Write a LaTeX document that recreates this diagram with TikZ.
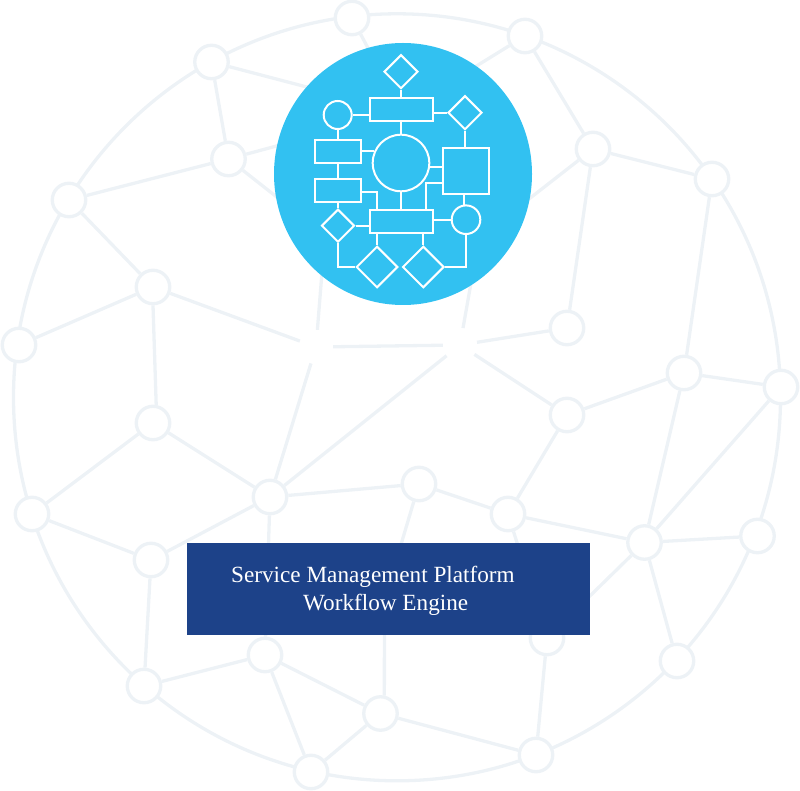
\documentclass[tikz,border=0pt]{standalone}
\usepackage{fontspec}
\setmainfont{Liberation Serif}
\usetikzlibrary{shapes.geometric}
\definecolor{netline}{HTML}{EDF2F6}
\definecolor{discblue}{HTML}{32C1F1}
\definecolor{boxblue}{HTML}{1D4289}
\tikzset{
  net/.style={circle,draw=netline,fill=white,line width=3.3pt,minimum size=33.5pt,inner sep=0pt},
  ghost/.style={circle,minimum size=34pt,inner sep=0pt},
  link/.style={draw=netline,line width=3.3pt},
  fbox/.style={rectangle,draw=white,line width=2pt,minimum width=63pt,minimum height=23pt,inner sep=0pt},
  smallbox/.style={fbox,minimum width=46pt},
  fcircle/.style={circle,draw=white,line width=2pt,inner sep=0pt},
  fdia/.style={diamond,draw=white,line width=2pt,inner sep=0pt,aspect=1},
  flow/.style={draw=white,line width=2pt},
}
\begin{document}
\begin{tikzpicture}[x=1pt,y=-1pt]
\useasboundingbox (0,0) rectangle (800,791);
\node[circle,draw=netline,line width=3.3pt,minimum size=767pt,inner sep=0pt] (ring) at (397,397.3) {};
\foreach \n/\x/\y in {n1/352/18,n2/525/36,n3/211.5/62,n4/228.5/159,n5/593/149,n6/712/179,n7/69/200,n8/153/287,n9/19/345,n10/567/328,n11/684/373,n12/781/387,n13/567/415,n14/153/423,n15/270/497,n16/419/484,n17/508/514,n18/32/514,n19/151/560,n20/644.5/542.5,n21/757.5/536,n22/547/638,n23/677/661,n24/265/655,n25/144/686,n26/380.5/713.5,n27/311/772,n28/536/755}
  \node[net] (\n) at (\x,\y) {};
\node[ghost] (ga) at (316,347) {};
\node[ghost] (gb) at (460,345) {};
\coordinate (h1) at (402,112);
\coordinate (h2) at (325,235);
\coordinate (h3) at (479,238);
\coordinate (h4) at (384.5,600);
\foreach \a/\b in {n3/n4,n4/n7,n7/n8,n8/n9,n8/ga,n14/n15,n14/n18,n18/n19,n19/n15,n19/n25,n15/n16,n15/ga,n15/gb,n15/n24,n16/n17,n16/h4,n17/n13,n17/n20,n17/n22,n13/gb,n13/n11,n11/n6,n11/n12,n11/n20,n12/n20,n20/n21,n20/n23,n20/n22,n5/n2,n5/n6,n5/n10,n5/h3,gb/h3,ga/gb,gb/n10,ga/h2,n4/h2,n4/h1,n3/h1,n1/h1,n2/h1,n25/n24,n24/n26,n24/n27,n26/n27,n26/n28,n22/n28}
  \draw[link] (\a) -- (\b);
\draw[link] (n8.south) -- (n14.80);
\draw[link] (h4) -- (n26.78);
\node[ellipse,fill=discblue,minimum width=258pt,minimum height=262pt,inner sep=0pt] (disc) at (403,174) {};
% flowchart
\node[fbox] (rt) at (401,109.7) {};
\node[fbox] (rb) at (401,221.7) {};
\node[smallbox] (r1) at (337.7,151.7) {};
\node[smallbox] (r2) at (337.7,190.5) {};
\node[fdia,minimum size=34pt] (dt) at (401,71.7) {};
\node[fdia,minimum size=34pt] (dr) at (465,112.7) {};
\node[fdia,minimum size=33pt] (dl) at (338,225.7) {};
\node[fdia,minimum size=41.5pt] (dbl) at (377,267) {};
\node[fdia,minimum size=41.5pt] (dbr) at (423.3,267) {};
\node[fcircle,minimum size=28pt] (cl) at (337.7,115) {};
\node[fcircle,minimum size=28.6pt] (cr) at (466,219.7) {};
\node[fcircle,minimum size=56.6pt] (cb) at (401,163) {};
\node[rectangle,draw=white,line width=2pt,minimum size=46pt,inner sep=0pt] (sq) at (465.8,171.2) {};
\draw[flow] (dt) -- (rt);
\draw[flow] (rt) -- (cb);
\draw[flow] (cb) -- (rb);
\draw[flow] (cl) -- (r1);
\draw[flow] (r1) -- (r2);
\draw[flow] (r2.south -| dl.north) -- (dl.north);
\draw[flow] (cl.east) -- (rt.west |- cl.east);
\draw[flow] (rt.east |- dr.west) -- (dr.west);
\draw[flow] (dr.south) -- (dr.south |- sq.north);
\draw[flow] (r1.east |- cb.155) -- (cb.155);
\draw[flow] (cb.352) -- (sq.west |- cb.352);
\draw[flow] (sq.west |- 0,182.7) -- (426,182.7) -- (rb.north -| 426,0);
\draw[flow] (r2.east |- 0,192) -- (377.3,192) -- (rb.north -| 377.3,0);
\draw[flow] (cr.99) -- (cr.99 |- sq.south);
\draw[flow] (rb.east |- cr.west) -- (cr.west);
\draw[flow] (dl.east) -- (rb.west |- dl.east);
\draw[flow] (dl.south) -- (dl.south |- dbl.west) -- (dbl.west);
\draw[flow] (rb.south -| dbl.north) -- (dbl.north);
\draw[flow] (rb.south -| dbr.north) -- (dbr.north);
\draw[flow] (dbr.east) -- (cr.south |- dbr.east) -- (cr.south);
% title box
\node[rectangle,fill=boxblue,anchor=north west,minimum width=403pt,minimum height=92pt,inner sep=0pt] (title) at (187,543) {};
\node[anchor=west,align=left,text=white,font=\fontsize{23.2pt}{28pt}\selectfont,inner sep=0pt] (label) at (231,590.5) {Service Management Platform\\\hspace*{72pt}Workflow Engine};
\end{tikzpicture}
\end{document}
